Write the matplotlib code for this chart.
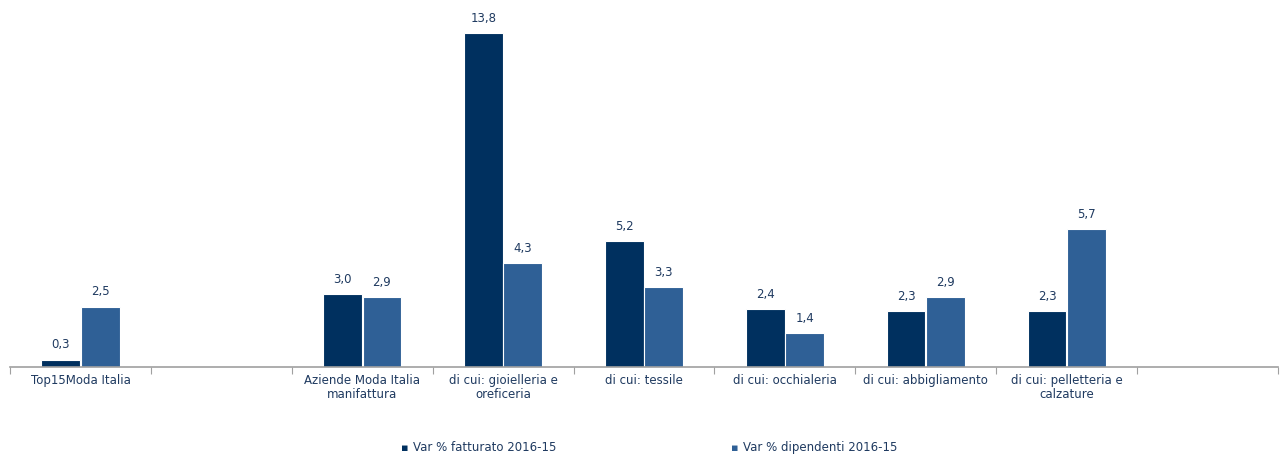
import matplotlib.pyplot as plt
import numpy as np

categories = ["Top15Moda Italia", "", "Aziende Moda Italia\nmanifattura",
              "di cui: gioielleria e\noreficeria", "di cui: tessile",
              "di cui: occhialeria", "di cui: abbigliamento",
              "di cui: pelletteria e\ncalzature", ""]
fatturato = [0.3, np.nan, 3.0, 13.8, 5.2, 2.4, 2.3, 2.3, np.nan]
dipendenti = [2.5, np.nan, 2.9, 4.3, 3.3, 1.4, 2.9, 5.7, np.nan]
series_names = ["Var % fatturato 2016-15", "Var % dipendenti 2016-15"]

dark = "#00305F"
light = "#2F6096"
txt = "#1F3A60"

fig = plt.figure(figsize=(12.85, 4.57), dpi=100)
ax = fig.add_axes([10 / 1285, 90 / 457, 1268 / 1285, 367 / 457])

x = np.arange(len(categories)) + 0.5
w = 0.275
b1 = ax.bar(x - 0.14, fatturato, w, color=dark, edgecolor="white", linewidth=0.8)
b2 = ax.bar(x + 0.14, dipendenti, w, color=light, edgecolor="white", linewidth=0.8)

for bars, vals in ((b1, fatturato), (b2, dipendenti)):
    for r, v in zip(bars, vals):
        if np.isnan(v):
            continue
        ax.annotate(f"{v:.1f}".replace(".", ","), (r.get_x() + r.get_width() / 2, v),
                    xytext=(0, 6), textcoords="offset points", ha="center", va="bottom",
                    fontsize=8.5, color=txt)

ax.set_xlim(0, len(categories))
ax.set_ylim(0, 15.17)
ax.set_yticks([])
ax.set_xticks(np.arange(len(categories) + 1))
ax.set_xticklabels([])
ax.set_xticks(x, minor=True)
ax.set_xticklabels(categories, minor=True, fontsize=8.5, color=txt, linespacing=1.1)
ax.tick_params(axis="x", which="major", length=5, color="#A0A0A0", direction="out")
ax.tick_params(axis="x", which="minor", length=0, pad=5)
for s in ("top", "left", "right"):
    ax.spines[s].set_visible(False)
ax.spines["bottom"].set_color("#A0A0A0")
ax.spines["bottom"].set_linewidth(1.2)

# legend
for xpos, col, name in ((405, dark, series_names[0]), (735, light, series_names[1])):
    fig.text(xpos / 1285, 1 - 451 / 457, "\u25aa", color=col, fontsize=8, ha="center", va="baseline")
    fig.text((xpos + 8) / 1285, 1 - 451 / 457, name, color=txt, fontsize=8.5, ha="left", va="baseline")

fig.savefig("out.png", dpi=100)
